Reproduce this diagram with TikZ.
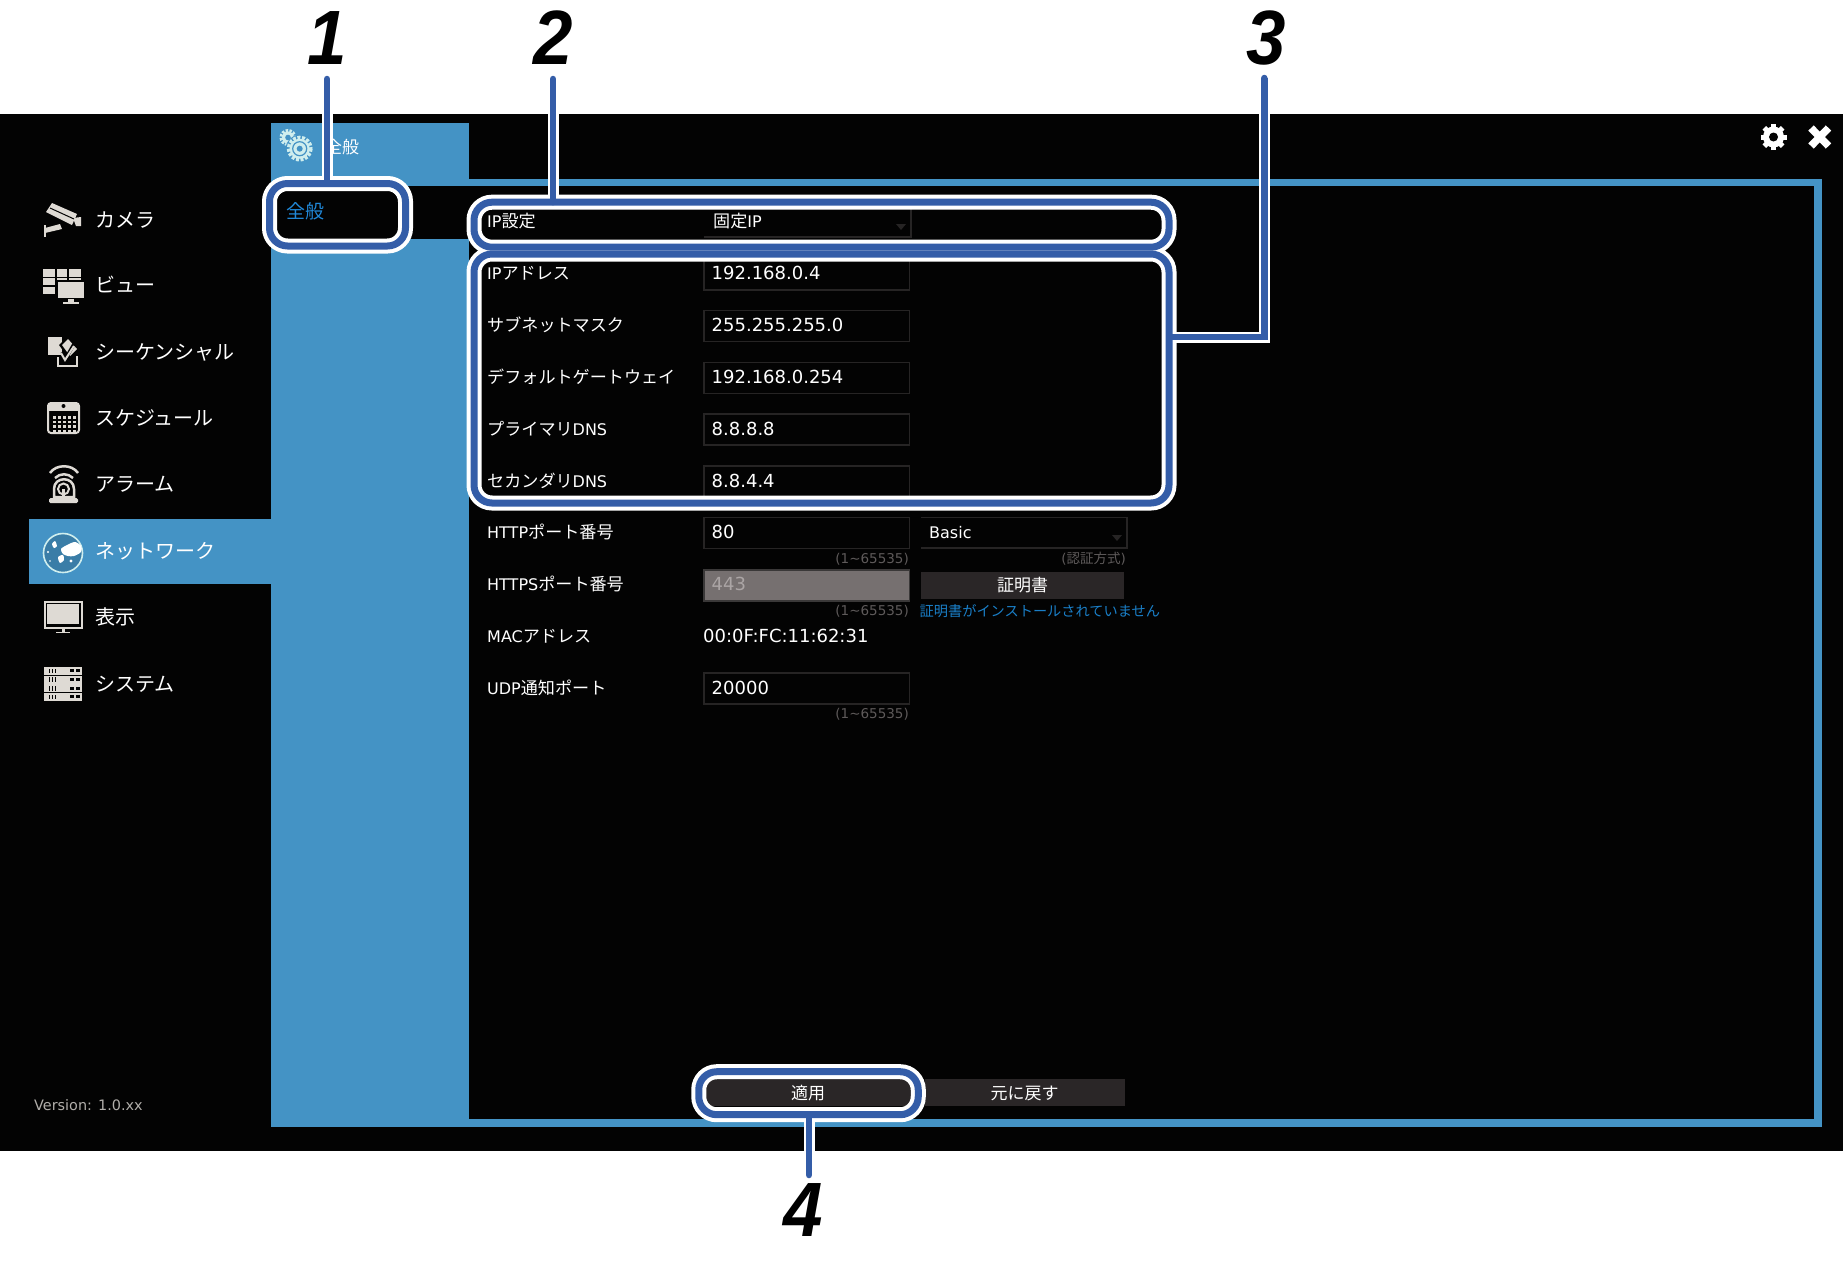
\documentclass[tikz,border=0pt]{standalone}
\usepackage{fontspec}
\setmainfont{DejaVu Sans}
\newfontfamily\cjk{Noto Sans CJK JP}
\newfontfamily\numfont{Liberation Sans}
\definecolor{bgblack}{HTML}{030303}
\definecolor{panelblue}{HTML}{4493C5}
\definecolor{callblue}{HTML}{345DA8}
\definecolor{iconc}{HTML}{DEDAD4}
\definecolor{boxline}{HTML}{262424}
\definecolor{btnfill}{HTML}{2A2627}
\definecolor{hintc}{HTML}{5E5A5A}
\definecolor{linkc}{HTML}{1A7FC8}
\definecolor{selc}{HTML}{2088D8}
\definecolor{gearc}{HTML}{CFEEEE}
\definecolor{disfill}{HTML}{767070}
\definecolor{disline}{HTML}{3A3838}
\definecolor{distext}{HTML}{ABA5A5}
\newcommand\fs[1]{\fontsize{#1}{#1}\selectfont}
\newcommand\jp{\cjk\fs{17.1}}
\newcommand\lt{\normalfont\fs{16}}
\newcommand\numtext[1]{\scalebox{0.92}[1]{#1}}
\tikzset{
  x=1pt,y=-1pt,
  menu/.style={anchor=west,inner sep=0pt,text=white,font=\cjk\fs{20},text height=17pt,text depth=2pt},
  lab/.style={anchor=west,inner sep=0pt,text=white,font=\fs{16},text height=15pt,text depth=2pt},
  val/.style={anchor=west,inner sep=0pt,text=white,font=\fs{18},text height=15pt,text depth=2pt},
  hint/.style={anchor=east,inner sep=0pt,text=hintc,font=\fs{13.5},text height=12pt,text depth=2pt},
  inputbox/.style={anchor=north west,draw=boxline,line width=1.6pt,minimum width=205.5pt,minimum height=31pt,inner sep=0pt,outer sep=0pt},
  btn/.style={fill=btnfill,inner sep=0pt,outer sep=0pt,text=white,font=\cjk\fs{17},text height=15pt,text depth=2pt},
  halo/.style={draw=white,line width=15pt,rounded corners=18pt,inner sep=0pt,outer sep=0pt},
  call/.style={draw=callblue,line width=7pt,rounded corners=18pt,inner sep=0pt,outer sep=0pt},
  leaderhalo/.style={draw=white,line width=11pt,miter limit=10},
  leader/.style={draw=callblue,line width=6.5pt,line cap=round,miter limit=10},
  num/.style={inner sep=0pt,text=black,font=\numfont\bfseries\itshape\fs{77}},
  icl/.style={draw=iconc,line width=2pt,fill=none},
}
\begin{document}
\begin{tikzpicture}
\useasboundingbox (0,0) rectangle (1843,1264);
\fill[white] (0,0) rectangle (1843,1264);
\fill[bgblack] (0,114) rectangle (1843,1151);
% panel and frame
\fill[panelblue] (271,123) rectangle (469,1127);
\fill[panelblue] (469,179) rectangle (1822,1127);
\fill[bgblack] (469,186) rectangle (1813.5,1119);
\fill[bgblack] (271,186) rectangle (469,239);
\fill[panelblue] (29,519) rectangle (271,584);
% sidebar texts
\node[menu] (m1) at (95,219.5) {カメラ};
\node[menu] (m2) at (95,285) {ビュー};
\node[menu] (m3) at (95,352) {シーケンシャル};
\node[menu] (m4) at (95,418) {スケジュール};
\node[menu] (m5) at (95,484) {アラーム};
\node[menu] (m6) at (95,551) {ネットワーク};
\node[menu] (m7) at (95,617) {表示};
\node[menu] (m8) at (95,683.5) {システム};
\node[anchor=west,inner sep=0pt,text=iconc!80!black,font=\fs{14.4}] (ver) at (34,1105.5) {Version: 1.0.xx};
% camera icon
\fill[iconc] (46,212) -- (52,203) -- (77,214) -- (72,225) -- cycle;
\fill[iconc] (73,218) -- (81,217) -- (81,226) -- (76,226) -- cycle;
\draw[bgblack,line width=1pt] (50,208) -- (74,219);
\draw[icl] (45,225) -- (45,237);
\fill[iconc] (45,228) -- (60,224) -- (62,229) -- (45,233) -- cycle;
% view icon
\foreach \yy/\hh in {269/8,278/7,287/7}{
  \fill[iconc] (43,\yy) rectangle +(12,\hh);
  \fill[iconc] (57,\yy) rectangle +(10,\hh);
  \fill[iconc] (69,\yy) rectangle +(12,\hh);
}
\fill[bgblack] (56,280) rectangle (86,305);
\fill[iconc] (58,282) rectangle (84,298);
\fill[iconc] (68,299) rectangle (74,302);
\fill[iconc] (63,302) rectangle (79,303.5);
% sequential icon
\fill[iconc] (48,337) rectangle (62,355);
\fill[bgblack] (59,345) -- (68,336) -- (80,349) -- (70,360) -- cycle;
\fill[iconc] (62,345) -- (68,339) -- (77,349) -- (70,356) -- cycle;
\draw[icl] (58,357) -- (58,366) -- (77,366) -- (77,356);
\draw[bgblack,line width=3.5pt] (62,352) -- (66,358) -- (74,344);
\draw[iconc,line width=2pt] (61,353) -- (65,360) -- (74,346);
% schedule icon
\draw[iconc,line width=2pt,rounded corners=3pt] (48,403) rectangle (79,433);
\fill[iconc] (48,403) rectangle (79,411);
\fill[bgblack] (63.5,406) circle (2);
\foreach \xx in {53,58,63,68,73}{\foreach \yy in {416,420.5,425,429.5}{
  \fill[iconc] (\xx,\yy) rectangle +(2.8,2.6);
}}
% alarm icon
\draw[icl,line width=2.5pt] (50,473) .. controls (56,464) and (72,464) .. (78,473);
\draw[icl,line width=2.5pt] (55,478) .. controls (60,473) and (68,473) .. (73,478);
\draw[icl,line width=2.5pt] (54,497) -- (54,489) .. controls (54,476) and (74,476) .. (74,489) -- (74,497) -- cycle;
\draw[icl,line width=2pt] (63.5,489) circle (5.5);
\fill[iconc] (62,489) rectangle (65,497);
\fill[iconc,rounded corners=1.5pt] (49,498) rectangle (78,503);
% globe icon
\draw[gearc,line width=1.6pt,fill=panelblue!85!black] (63,553) circle (19.5);
\fill[white] plot[smooth cycle] coordinates {(61,549) (67,545) (75,542) (81,546) (81,552) (74,556) (68,556) (63,554)};
\fill[white] plot[smooth cycle] coordinates {(58,557) (63,555) (64,560) (60,563)};
\fill[white] plot[smooth cycle] coordinates {(52,544) (55,541) (57,546) (54,548)};
\fill[white] (48,552) circle (1.2);
\fill[white] (71,561) circle (1.6);
\fill[white] (50,561) circle (.8);
% display icon
\draw[icl] (44.5,602) rectangle (81.5,628);
\fill[iconc] (47,604) rectangle (79,624);
\fill[iconc] (61.5,628) rectangle (64.5,632);
\fill[iconc] (56,631.5) rectangle (70,633);
% system icon
\foreach \yy in {667,675.7,684.4,693.1}{
  \fill[iconc] (44,\yy) rectangle +(38,7.8);
  \foreach \xx in {49,51.8,54.6}{\fill[bgblack] (\xx,\yy+1.5) rectangle +(.9,4.8);}
  \fill[bgblack] (70,\yy+2.3) rectangle +(3.6,3);
  \fill[bgblack] (76,\yy+2.3) rectangle +(3.6,3);
}
% panel header
\draw[gearc,line width=3pt,dash pattern=on 2.4pt off 1.4pt] (288,137.5) circle (7);
\fill[gearc] (288,137.5) circle (6);
\fill[panelblue] (288,137.5) circle (2.8);
\fill[panelblue] (299.7,148.7) circle (14);
\draw[gearc,line width=3.4pt,dash pattern=on 3pt off 1.6pt] (299.7,148.7) circle (11.3);
\fill[gearc] (299.7,148.7) circle (10);
\draw[panelblue,line width=1.2pt] (299.7,148.7) circle (7);
\fill[panelblue] (299.7,148.7) circle (3);
\node[anchor=west,inner sep=0pt,text=white,font=\cjk\fs{17}] (title) at (325,147) {全般};
\node[anchor=west,inner sep=0pt,text=selc,font=\cjk\fs{19}] (sel) at (286,211) {全般};
% top right icons
\foreach \a in {0,45,90,135}{\draw[white,line width=5pt] (1773.5,137) ++(\a:13) -- ++(\a+180:26);}
\fill[white] (1773.5,137) circle (10.5);
\fill[bgblack] (1773.5,137) circle (4.5);
\draw[white,line width=7.5pt] (1811,128) -- (1828.5,146);
\draw[white,line width=7.5pt] (1811,146) -- (1828.5,128);
% form boxes
\foreach \n/\yy in {a/259,b/310.5,c/362.5,d/414,e/466,f/517.5,g/673}{
  \node[inputbox] (box\n) at (704,\yy) {};
}
\node[inputbox,fill=disfill,draw=disline] (boxh) at (704,570) {};
\draw[boxline,line width=1.5pt] (704,208) -- (911,208) -- (911,237) -- (704,237);
\fill[boxline] (896,224) -- (906,224) -- (901,230) -- cycle;
\draw[boxline,line width=1.5pt] (921,548) -- (1127,548) -- (1127,517.5) -- (921,517.5);
\fill[boxline] (1112,535) -- (1122,535) -- (1117,541) -- cycle;
% labels
\node[lab] (l1) at (487,221) {IP\jp 設定};
\node[lab] (l2) at (487,273) {IP\jp アドレス};
\node[lab] (l3) at (487,325) {\jp サブネットマスク};
\node[lab] (l4) at (487,377) {\jp デフォルトゲートウェイ};
\node[lab] (l5) at (487,429) {\jp プライマリ\lt DNS};
\node[lab] (l6) at (487,481) {\jp セカンダリ\lt DNS};
\node[lab] (l7) at (487,532) {HTTP\jp ポート番号};
\node[lab] (l8) at (487,584) {HTTPS\jp ポート番号};
\node[lab] (l9) at (487,636) {MAC\jp アドレス};
\node[lab] (l10) at (487,688) {UDP\jp 通知ポート};
% values
\node[lab] (v1) at (713,221) {\jp 固定\lt IP};
\node[val] (v2) at (711.5,273) {192.168.0.4};
\node[val] (v3) at (711.5,325) {255.255.255.0};
\node[val] (v4) at (711.5,377) {192.168.0.254};
\node[val] (v5) at (711.5,429) {8.8.8.8};
\node[val] (v6) at (711.5,481) {8.8.4.4};
\node[val] (v7) at (711.5,532) {80};
\node[val,text=distext] (v8) at (711.5,584) {443};
\node[val] (v9) at (703,636) {00:0F:FC:11:62:31};
\node[val] (v10) at (711.5,688) {20000};
\node[lab] (v11) at (929,532) {Basic};
\node[hint] (h1) at (909,558.5) {(1\textasciitilde 65535)};
\node[hint] (h2) at (909,610.5) {(1\textasciitilde 65535)};
\node[hint] (h3) at (909,713.5) {(1\textasciitilde 65535)};
\node[hint] (h4) at (1126,558.5) {(\cjk 認証方式\normalfont)};
\node[btn,minimum width=203.5pt,minimum height=27pt] (cert) at (1022.7,585) {証明書};
\node[anchor=west,inner sep=0pt,text=linkc,font=\cjk\fs{14.2}] (warn) at (919.5,611) {証明書がインストールされていません};
\node[btn,minimum width=208pt,minimum height=27pt] (apply) at (808,1092.5) {適用};
\node[btn,minimum width=200pt,minimum height=27pt] (reset) at (1024.5,1092.5) {元に戻す};
% numbers
\node[num] (n1) at (327.5,38) {\numtext{1}};
\node[num] (n2) at (553,38) {\numtext{2}};
\node[num] (n3) at (1266,38) {\numtext{3}};
\node[num] (n4) at (803.5,1209.5) {\numtext{4}};
\coordinate (t1) at (327,79);
\coordinate (t2) at (553,79);
\coordinate (t3) at (1264.3,78);
\coordinate (t4) at (809,1175);
\coordinate (e3) at (1264.3,337);
% callouts: white halos first
\node[halo,minimum width=136pt,minimum height=62.5pt] (c1h) at (337.5,214.75) {};
\node[halo,minimum width=695pt,minimum height=45pt] (c2h) at (821.5,224.7) {};
\node[halo,minimum width=695pt,minimum height=249pt] (c3h) at (821.5,378.5) {};
\node[halo,minimum width=219.5pt,minimum height=43pt] (c4h) at (808.5,1093.2) {};
\draw[leaderhalo] (t1) -- (t1 |- c1h.north);
\draw[leaderhalo] (t2) -- (t2 |- c2h.north);
\draw[leaderhalo] (t3) -- (e3) -- (e3 -| c3h.east);
\draw[leaderhalo] (t4) -- (t4 |- c4h.south);
% callouts: blue strokes
\node[call,minimum width=136pt,minimum height=62.5pt] (c1) at (337.5,214.75) {};
\node[call,minimum width=695pt,minimum height=45pt] (c2) at (821.5,224.7) {};
\node[call,minimum width=695pt,minimum height=249pt] (c3) at (821.5,378.5) {};
\node[call,minimum width=219.5pt,minimum height=43pt] (c4) at (808.5,1093.2) {};
\draw[leader] (t1) -- (t1 |- c1.north);
\draw[leader] (t2) -- (t2 |- c2.north);
\draw[leader,line cap=butt] (t3) -- (e3) -- (e3 -| c3.east);
\fill[callblue] (t3) circle (3.25);
\draw[leader] (t4) -- (t4 |- c4.south);
\end{tikzpicture}
\end{document}
